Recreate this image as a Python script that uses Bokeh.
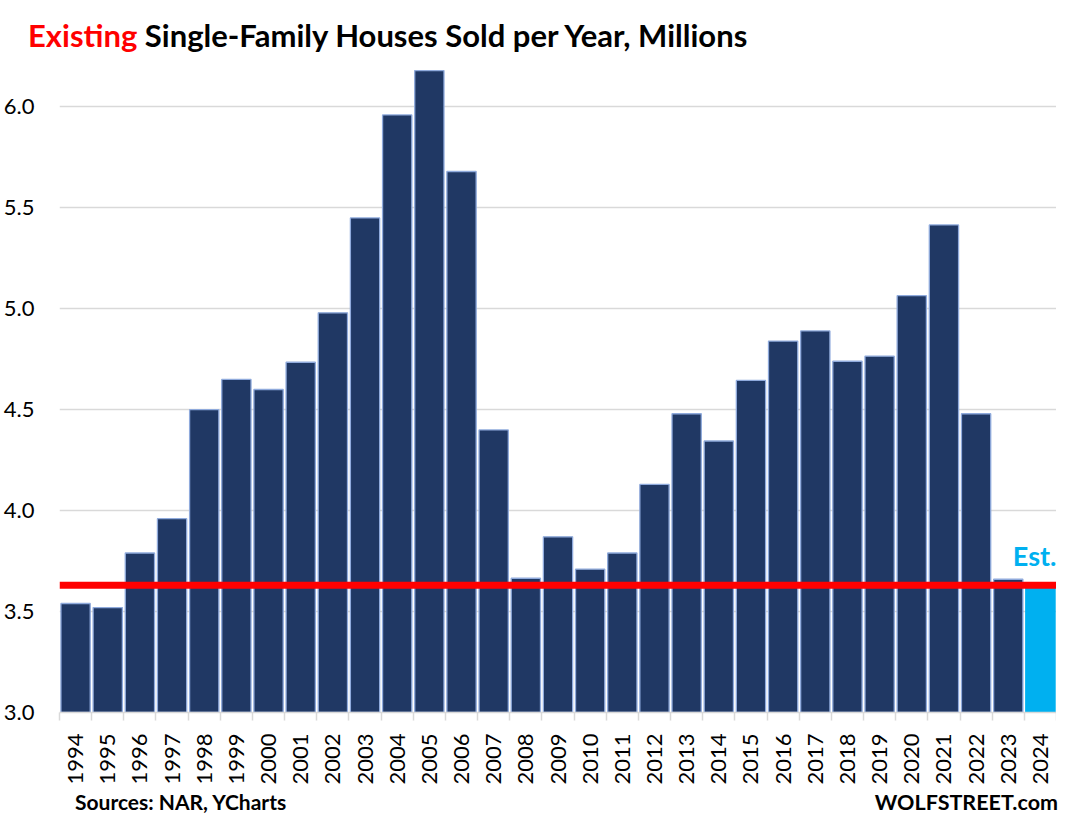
import math
from bokeh.plotting import figure
from bokeh.layouts import column
from bokeh.models import ColumnDataSource, Range1d, FixedTicker, Span, Label, PrintfTickFormatter, Div
from bokeh.embed import file_html
from bokeh.resources import INLINE

# ---- data ----
years = ["1994", "1995", "1996", "1997", "1998", "1999", "2000", "2001", "2002", "2003",
         "2004", "2005", "2006", "2007", "2008", "2009", "2010", "2011", "2012", "2013",
         "2014", "2015", "2016", "2017", "2018", "2019", "2020", "2021", "2022", "2023",
         "2024"]
sales = [3.54, 3.52, 3.79, 3.96, 4.50, 4.65, 4.60, 4.735, 4.98, 5.45,
         5.96, 6.18, 5.68, 4.40, 3.665, 3.87, 3.71, 3.79, 4.13, 4.48,
         4.345, 4.645, 4.84, 4.89, 4.74, 4.765, 5.065, 5.415, 4.48, 3.66,
         3.63]
n_estimated = 1          # last year is an estimate
est_level = 3.63         # red reference line
y_ticks = [3.0, 3.5, 4.0, 4.5, 5.0, 5.5, 6.0]
y_min, y_max = 3.0, 6.2

title_red = "Existing"
title_rest = "Single-Family Houses Sold per Year, Millions"
source_text = "Sources: NAR, YCharts"
brand_text = "WOLFSTREET.com"
est_text = "Est."

# ---- build ----
n = len(years)
pos = [i + 0.5 for i in range(n)]
n_act = n - n_estimated
act = ColumnDataSource(dict(x=pos[:n_act], top=sales[:n_act]))
est = ColumnDataSource(dict(x=pos[n_act:], top=sales[n_act:]))

NAVY = "#203864"
LIGHT = "#00B0F0"
GRID = "#D9D9D9"
FONT = "Lato"

p = figure(width=1051, height=722, frame_width=997, frame_height=646,
           x_range=Range1d(0, n), y_range=Range1d(y_min, y_max),
           output_backend="svg", toolbar_location=None,
           min_border_left=54, min_border_right=0, min_border_top=6, min_border_bottom=70)
p.outline_line_color = None
p.background_fill_color = "white"
p.border_fill_color = "white"

p.vbar(x="x", top="top", bottom=y_min, width=0.91, source=act,
       fill_color=NAVY, line_color="#8FAADC", line_width=1.3)
p.vbar(x="x", top="top", bottom=y_min, width=0.91, source=est,
       fill_color=LIGHT, line_color=LIGHT, line_width=1.3)

p.add_layout(Span(location=est_level, dimension="width", line_color="#FF0000", line_width=7))

# grid
p.xgrid.visible = False
p.ygrid.ticker = FixedTicker(ticks=y_ticks)
p.ygrid.grid_line_color = GRID
p.ygrid.grid_line_width = 1.5

# y axis
ya = p.yaxis[0]
ya.ticker = FixedTicker(ticks=y_ticks)
ya.formatter = PrintfTickFormatter(format="%.1f")
ya.axis_line_color = None
ya.major_tick_line_color = None
ya.minor_tick_line_color = None
ya.major_label_standoff = 19
ya.major_label_text_font = FONT
ya.major_label_text_font_size = "22px"
ya.major_label_text_color = "#000000"

# x axis
xa = p.xaxis[0]
xa.ticker = FixedTicker(ticks=pos, minor_ticks=list(range(n + 1)))
xa.major_label_overrides = {pos[i]: years[i] for i in range(n)}
xa.major_label_orientation = math.pi / 2
xa.major_tick_in = 0
xa.major_tick_out = 0
xa.major_tick_line_color = None
xa.minor_tick_in = 0
xa.minor_tick_out = 8
xa.minor_tick_line_color = GRID
xa.minor_tick_line_width = 1.5
xa.axis_line_color = GRID
xa.axis_line_width = 1.5
xa.major_label_standoff = 13
xa.major_label_text_font = FONT
xa.major_label_text_font_size = "22px"
xa.major_label_text_color = "#000000"

# "Est." marker text
p.add_layout(Label(x=n, y=sales[-1], y_offset=30, text=est_text, text_align="right",
                   text_color=LIGHT, text_font=FONT, text_font_size="27px",
                   text_font_style="bold", text_baseline="alphabetic"))

title_div = Div(
    text=(f'<div style="font-family:Lato;font-size:31px;font-weight:bold;line-height:28px;'
          f'padding:16px 0 0 23px;white-space:nowrap;color:#000000">'
          f'<span style="color:#FF0000">{title_red}</span> {title_rest}</div>'),
    width=1051, height=50)

footer_div = Div(
    text=(f'<div style="width:1051px;display:flex;justify-content:space-between;'
          f'font-family:Lato;font-weight:bold;color:#000000;white-space:nowrap;padding-top:0px">'
          f'<span style="font-size:21px;line-height:20px;padding-left:70px">{source_text}</span>'
          f'<span style="font-size:21.5px;line-height:20px;margin-right:-2px">{brand_text}</span></div>'),
    width=1051, height=30)

layout = column(title_div, p, footer_div, spacing=0)
open("out.html", "w").write(file_html(layout, INLINE))
